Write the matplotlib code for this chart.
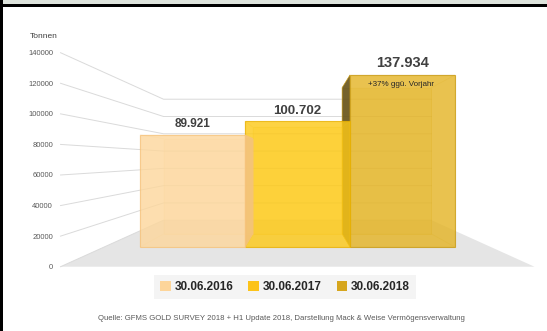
import matplotlib
matplotlib.use("Agg")
import matplotlib.pyplot as plt
from matplotlib.patches import Polygon, Rectangle, Patch

# Daten (Tonnen)
dates = ["30.06.2016", "30.06.2017", "30.06.2018"]
tonnes = [89921, 100702, 137934]
y_ticks = [0, 20000, 40000, 60000, 80000, 100000, 120000, 140000]
y_label = "Tonnen"
source = "Quelle: GFMS GOLD SURVEY 2018 + H1 Update 2018, Darstellung Mack & Weise Vermögensverwaltung"

front_colors = ["#fdd79c", "#fdc917", "#e4b425"]
edge_colors = ["#f6c27a", "#e8b000", "#c99a10"]
side_colors = ["#f3c27c", "#e6b200", "#5f4b12"]
legend_colors = ["#fdd59a", "#fcc31a", "#d6a61e"]

plt.rcParams["font.family"] = ["Liberation Sans", "DejaVu Sans"]

fig = plt.figure(figsize=(5.47, 3.31), dpi=100)
fig.patch.set_facecolor("white")

# Achse = vordere Ebene der Säulen (x = Kategorie, y = Tonnen)
ax = fig.add_axes([0, 0, 1, 1])
ax.set_xlim(-192.5 / 105, 354.5 / 105)
ax.set_ylim(-84 / 0.001247, 247 / 0.001247)
ax.set_axis_off()

# Pseudo-3D: Fluchtpunkt und Tiefenfaktoren
VX, VY = 1.0, 70000
K_NEAR, K_BACK, K_WALL = 1.2258, 0.85, 0.693
X_L, X_R = -0.841, 2.841


def proj(x, v, k):
    return VX + k * (x - VX), VY + k * (v - VY)


# Boden
floor = [proj(X_L, 0, K_NEAR), proj(X_R, 0, K_NEAR),
         proj(X_R, 0, K_WALL), proj(X_L, 0, K_WALL)]
ax.add_patch(Polygon(floor, closed=True, facecolor="#e5e5e5", edgecolor="none", zorder=1))

# Gitterlinien (Seitenwand + Rückwand)
for v in y_ticks:
    pts = [proj(X_L, v, K_NEAR), proj(X_L, v, K_WALL), proj(X_R, v, K_WALL)]
    ax.plot([p[0] for p in pts], [p[1] for p in pts], color="#dadada", lw=0.7, zorder=2)

# Säulen als transparente Quader, von rechts nach links
for i in reversed(range(len(tonnes))):
    h = tonnes[i]
    x0, x1 = i - 0.5, i + 0.5
    front = [(x0, 0), (x1, 0), (x1, h), (x0, h)]
    back = [proj(x, v, K_BACK) for x, v in front]
    z = 3 + (len(tonnes) - i) * 3
    ax.add_patch(Polygon(back, closed=True, facecolor=front_colors[i], alpha=0.3,
                         edgecolor=edge_colors[i], lw=0.5, zorder=z))
    # Seitenflächen; nur die außerhalb der Front sichtbare dunkel
    for a, b in [(0, 1), (1, 2), (2, 3), (3, 0)]:
        face = [front[a], front[b], back[b], back[a]]
        outside = (a == 3 and back[a][0] < front[a][0]) or (a == 1 and back[a][0] > front[a][0])
        ax.add_patch(Polygon(face, closed=True,
                             facecolor=side_colors[i] if outside else front_colors[i],
                             alpha=0.85 if outside else 0.12,
                             edgecolor=edge_colors[i], lw=0.5, zorder=z + 1))
    ax.bar(i, h, width=1.0, color=front_colors[i], alpha=0.78,
           edgecolor=edge_colors[i], linewidth=0.8, zorder=z + 2)

# Werte über den Säulen
label_sizes = [8.5, 9.5, 10.5]
for i, h in enumerate(tonnes):
    ax.annotate(f"{h:,}".replace(",", "."), xy=(i, h), xytext=(0, 3.5), textcoords="offset points",
                ha="center", va="bottom", fontsize=label_sizes[i], fontweight="bold",
                color="#404040", zorder=20)

growth = round((tonnes[2] / tonnes[1] - 1) * 100)
ax.annotate(f"+{growth}% ggü. Vorjahr", xy=(2, tonnes[2]), xytext=(-1, -6.5),
            textcoords="offset points", ha="center", va="center", fontsize=5.8,
            color="#262626", zorder=20)

# y-Achse in der vorderen Ebene
fig.canvas.draw()
p0 = fig.transFigure.inverted().transform(ax.transData.transform(proj(X_L, y_ticks[0], K_NEAR)))
p1 = fig.transFigure.inverted().transform(ax.transData.transform(proj(X_L, y_ticks[-1], K_NEAR)))
ax_y = fig.add_axes([p0[0] - 0.001, p0[1], 0.001, p1[1] - p0[1]])
ax_y.set_ylim(y_ticks[0], y_ticks[-1])
ax_y.set_yticks(y_ticks)
ax_y.set_yticklabels([str(t) for t in y_ticks])
ax_y.set_xticks([])
ax_y.tick_params(axis="y", length=0, pad=5, labelsize=5.5, labelcolor="#595959")
for s in ax_y.spines.values():
    s.set_visible(False)
ax_y.patch.set_visible(False)

fig.text(30 / 547, 1 - 37 / 331, y_label, ha="left", va="center", fontsize=6, color="#404040")

# Legende
handles = [Patch(facecolor=c, edgecolor="none") for c in legend_colors]
leg = fig.legend(handles, dates, loc="center", bbox_to_anchor=(285 / 547, 1 - 287 / 331), ncol=3,
                 frameon=True, facecolor="#f2f2f2", edgecolor="none", fancybox=False,
                 handlelength=0.9, handleheight=0.9, handletextpad=0.3, columnspacing=1.3,
                 borderpad=0.5, prop={"weight": "bold", "size": 8.5})
for t in leg.get_texts():
    t.set_color("#262626")

fig.text(281.5 / 547, 1 - 318 / 331, source, ha="center", va="center", fontsize=5.6, color="#595959")

# Rahmen oben / links
fig.add_artist(Rectangle((0, 1 - 4 / 331), 1, 4 / 331, transform=fig.transFigure,
                         facecolor="#dde3dc", edgecolor="none"))
fig.add_artist(Rectangle((0, 1 - 7 / 331), 1, 3 / 331, transform=fig.transFigure,
                         facecolor="black", edgecolor="none"))
fig.add_artist(Rectangle((0, 0), 3 / 547, 1, transform=fig.transFigure,
                         facecolor="black", edgecolor="none"))

fig.savefig("out.png", dpi=100)
